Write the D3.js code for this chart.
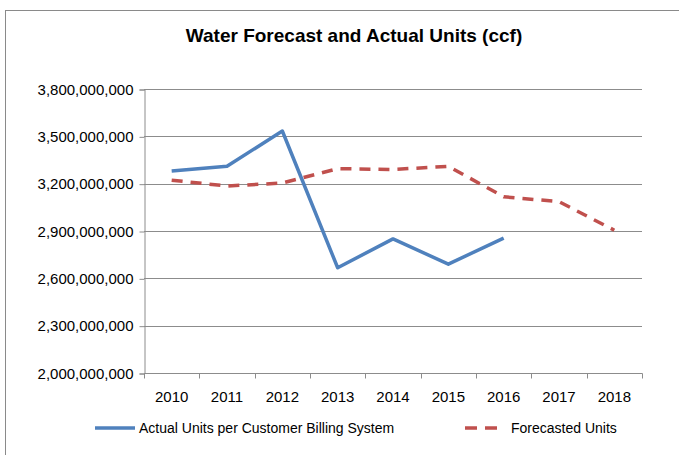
<!DOCTYPE html>
<html>
<head>
<meta charset="utf-8">
<script src="https://cdn.jsdelivr.net/npm/d3@7"></script>
<style>
  body { margin: 0; background: #fff; }
  text { font-family: "Liberation Sans", Arial, sans-serif; }
</style>
</head>
<body>
<div id="chart"></div>
<script>
// data
const years = ['2010','2011','2012','2013','2014','2015','2016','2017','2018'];
const actualUnits = [3280000000, 3310000000, 3534000000, 2667000000, 2850000000, 2690000000, 2855000000, null, null];
const forecastUnits = [3222000000, 3185000000, 3204000000, 3295000000, 3290000000, 3310000000, 3117000000, 3086000000, 2905000000];
const yTicks = [2000000000, 2300000000, 2600000000, 2900000000, 3200000000, 3500000000, 3800000000];
const seriesNames = ['Actual Units per Customer Billing System', 'Forecasted Units'];

const width = 679;
const height = 455;
const margin = { left: 144, right: 37, top: 89, bottom: 82 };
const BLUE = '#4f81bd';
const RED = '#c0504d';
const GRID = '#8c8c8c';

const svg = d3.select('#chart').append('svg')
  .attr('width', width)
  .attr('height', height);

// outer chart border (only top + left visible in the crop)
svg.append('rect')
  .attr('x', 5.5).attr('y', 10.5)
  .attr('width', width + 20).attr('height', height + 20)
  .attr('fill', 'none')
  .attr('stroke', '#8a8a8a')
  .attr('stroke-width', 1);

svg.append('text')
  .attr('x', 354).attr('y', 42)
  .attr('text-anchor', 'middle')
  .attr('font-size', 19)
  .attr('font-weight', 'bold')
  .attr('fill', '#000')
  .text('Water Forecast and Actual Units (ccf)');

const x = d3.scaleBand().domain(years).range([margin.left, width - margin.right]);
const y = d3.scaleLinear().domain([2000000000, 3800000000]).range([height - margin.bottom, margin.top]);

const g = svg.append('g');

// gridlines
g.selectAll('line.grid')
  .data(yTicks.slice(1))
  .join('line')
  .attr('class', 'grid')
  .attr('x1', margin.left).attr('x2', width - margin.right)
  .attr('y1', d => Math.round(y(d)) + 0.5).attr('y2', d => Math.round(y(d)) + 0.5)
  .attr('stroke', GRID)
  .attr('stroke-width', 1);

// y axis
const yAxis = g.append('g')
  .attr('transform', `translate(${margin.left + 0.5},0.5)`)
  .call(d3.axisLeft(y).tickValues(yTicks).tickSize(5).tickPadding(6).tickFormat(d3.format(',')));
yAxis.selectAll('line').attr('stroke', GRID);
yAxis.select('.domain').attr('stroke', GRID);
yAxis.selectAll('text')
  .attr('font-size', 15)
  .attr('fill', '#000')
  .style('font-family', '"Liberation Sans", Arial, sans-serif');

// x axis with ticks at band edges
const xAxis = g.append('g')
  .attr('transform', `translate(0,${Math.round(y(2000000000)) + 0.5})`);
xAxis.append('line')
  .attr('x1', margin.left).attr('x2', width - margin.right + 0.5)
  .attr('stroke', GRID);
xAxis.selectAll('line.tick')
  .data(years.concat(['end']))
  .join('line')
  .attr('class', 'tick')
  .attr('x1', (d, i) => Math.round(margin.left + i * x.step()) + 0.5)
  .attr('x2', (d, i) => Math.round(margin.left + i * x.step()) + 0.5)
  .attr('y1', 0).attr('y2', 5)
  .attr('stroke', GRID);
xAxis.selectAll('text')
  .data(years)
  .join('text')
  .attr('x', d => x(d) + x.bandwidth() / 2)
  .attr('y', 28)
  .attr('text-anchor', 'middle')
  .attr('font-size', 15)
  .attr('fill', '#000')
  .text(d => d);

// lines
const line = d3.line()
  .defined(d => d != null)
  .x((d, i) => x(years[i]) + x.bandwidth() / 2)
  .y(d => y(d));

g.append('path')
  .datum(forecastUnits)
  .attr('d', line)
  .attr('fill', 'none')
  .attr('stroke', RED)
  .attr('stroke-width', 3.5)
  .attr('stroke-dasharray', '11,8')
  .attr('stroke-linejoin', 'round');

g.append('path')
  .datum(actualUnits)
  .attr('d', line)
  .attr('fill', 'none')
  .attr('stroke', BLUE)
  .attr('stroke-width', 3.5)
  .attr('stroke-linejoin', 'round');

// legend
const legendY = 428;
const legend = svg.append('g');
legend.append('line')
  .attr('x1', 95).attr('x2', 135)
  .attr('y1', legendY).attr('y2', legendY)
  .attr('stroke', BLUE).attr('stroke-width', 3.5);
legend.append('text')
  .attr('x', 139).attr('y', legendY + 5)
  .attr('font-size', 14).attr('fill', '#000')
  .text(seriesNames[0]);
legend.append('line')
  .attr('x1', 465).attr('x2', 497)
  .attr('y1', legendY).attr('y2', legendY)
  .attr('stroke', RED).attr('stroke-width', 3.5)
  .attr('stroke-dasharray', '12,8');
legend.append('text')
  .attr('x', 511).attr('y', legendY + 5)
  .attr('font-size', 14).attr('fill', '#000')
  .text(seriesNames[1]);
</script>
</body>
</html>
